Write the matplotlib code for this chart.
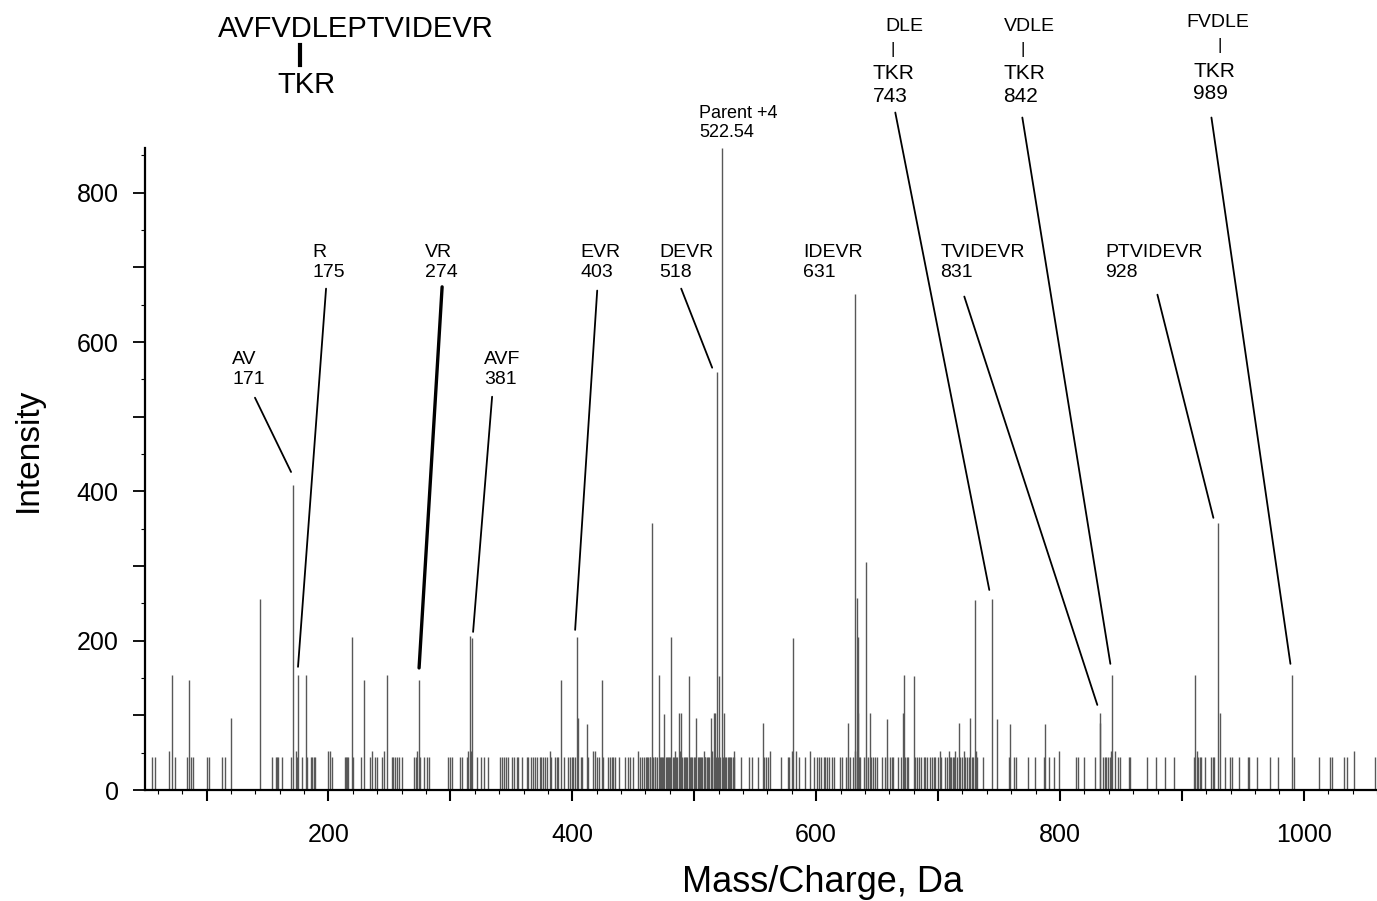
import matplotlib.pyplot as plt
from matplotlib.ticker import MultipleLocator, FuncFormatter
from matplotlib.lines import Line2D

plt.rcParams['font.family'] = ['Liberation Sans', 'DejaVu Sans']

# tall / labelled peaks (m/z, intensity)
peak_mz = [72.0, 85.8, 120.3, 143.8, 171.2, 175.3, 181.3, 219.1, 229.2, 247.8,
           274.3, 316.2, 318.1, 390.5, 403.6, 405.0, 411.8, 424.0, 465.2, 470.7,
           475.5, 481.1, 487.1, 489.0, 495.3, 501.6, 513.7, 515.9, 517.2, 518.9,
           520.5, 522.54, 524.3, 556.8, 581.2, 626.3, 632.1, 633.2, 634.0, 634.5,
           641.1, 644.4, 658.1, 671.2, 671.8, 680.2, 716.9, 726.2, 730.0, 744.2,
           748.3, 758.7, 787.7, 832.4, 833.2, 842.5, 911.1, 929.6, 931.0, 990.4]
peak_int = [154, 147, 96, 256, 409, 154, 154, 205, 147, 154,
            147, 206, 203, 147, 205, 96, 88, 147, 358, 154,
            102, 205, 103, 103, 153, 96, 96, 103, 103, 560,
            153, 860, 103, 90, 204, 90, 665, 257, 205, 103,
            306, 103, 95, 103, 154, 153, 90, 96, 255, 256,
            95, 89, 89, 103, 90, 154, 154, 358, 103, 154]

# low baseline peaks (about 44 counts)
noise_mz = [55.0, 57.7, 74.1, 83.7, 87.2, 88.6, 100.1, 102.3, 112.4, 115.2,
            153.4, 157.0, 158.1, 158.9, 162.2, 169.0, 174.0, 178.1, 182.7, 185.4,
            186.8, 188.2, 189.0, 202.7, 213.6, 214.4, 215.2, 216.3, 220.4, 226.7,
            234.1, 238.2, 239.6, 243.7, 251.9, 253.3,
            254.6, 256.0, 257.9, 260.1, 270.2, 271.6, 275.1, 278.7, 280.6, 282.5,
            298.4, 299.7, 301.6, 308.0, 309.3, 313.4, 321.6, 325.2, 327.9, 330.7,
            340.8, 342.2, 344.1, 345.7, 347.6, 350.4, 352.3, 354.5, 355.8, 358.6,
            362.7, 364.0, 366.2, 367.6, 369.5, 371.4, 373.1, 374.4, 376.3, 377.7,
            379.1, 382.6, 385.4, 387.3, 388.6, 393.5, 396.8, 398.2, 399.5, 400.9,
            402.3, 406.9, 408.2, 413.1, 419.9, 421.8, 425.4, 429.6, 431.0, 432.3,
            433.7, 435.1, 438.6, 443.3, 445.5, 447.4, 450.1, 455.6, 457.5, 459.1,
            460.2, 461.0, 462.1, 463.4, 464.0, 466.3, 467.5, 468.2, 469.4, 471.8,
            472.9, 473.6, 474.4, 476.6, 477.8, 478.5, 479.7, 480.3, 482.4, 483.5,
            485.3, 486.0, 488.0, 490.2, 491.4, 492.1, 493.3, 494.0, 496.4, 497.5,
            498.3, 499.6, 500.4, 502.8, 503.5, 504.7, 505.4, 506.6, 508.5, 509.2,
            510.4, 511.6, 512.3, 516.6, 518.0, 519.8, 521.3, 523.8, 525.2, 526.0,
            527.3, 528.1, 529.5, 530.4, 531.6, 533.0,
            538.3, 545.1, 547.3, 552.2, 557.4, 558.8, 560.4, 571.3, 576.8, 577.9,
            585.6, 590.5, 597.9, 600.6, 602.5, 604.2, 606.1, 607.5, 608.8, 610.7,
            612.9, 614.8, 619.7, 621.1, 624.6, 626.5, 627.9, 630.6, 633.4, 634.8,
            636.1, 638.9, 640.8, 642.4, 645.2, 646.5, 648.4, 649.8, 654.4, 656.6,
            658.5, 660.7, 662.1, 663.4,
            667.1, 669.6, 673.1, 674.5, 675.3, 681.3, 682.7, 684.6, 686.2, 688.1,
            689.5, 690.9, 693.1, 694.9, 696.3, 697.7, 699.6, 702.1, 705.9, 707.3,
            709.5, 710.8, 711.9, 713.0, 715.2, 718.2, 719.6, 722.3, 723.7, 725.0,
            727.8, 728.6, 732.2, 736.8, 757.9, 762.0, 763.9, 773.7, 779.1, 786.5,
            791.1, 794.7, 813.0, 814.9, 819.6, 828.6, 835.1, 836.8, 838.1, 839.5,
            840.9, 847.7, 849.6, 856.4, 857.8,
            871.4, 878.8, 886.4, 893.2, 909.7, 913.2, 914.6, 916.0, 918.7, 924.2,
            925.5, 926.6, 935.6, 939.7, 941.1, 947.1, 953.9, 955.3, 961.9, 972.5,
            978.6, 991.7, 1012.2, 1021.8, 1023.1, 1032.7, 1035.4, 1058.6]
noise_h = 44
# slightly taller baseline peaks (about 52 counts)
bump_mz = [69.2, 173.1, 199.4, 201.6, 235.5, 245.9, 272.9, 314.3, 317.0, 381.3,
           417.2, 418.6, 453.7, 484.4, 488.5, 507.6, 514.4, 532.3, 562.3, 580.1,
           583.4, 594.6, 632.0, 701.2, 708.7, 714.1, 720.9, 731.1, 799.3, 842.2,
           844.7, 912.4, 1041.4]
bump_h = 52

# fragment labels
ann_text = ['AV\n171', 'R\n175', 'VR\n274', 'AVF\n381', 'EVR\n403', 'DEVR\n518',
            'IDEVR\n631', 'TVIDEVR\n831', 'PTVIDEVR\n928']
ann_pos = [(120.9, 588), (186.6, 731.5), (279.2, 731.5), (327.6, 588), (406.4, 731.5),
           (471.2, 731.5), (589.4, 731.5), (701.8, 731.5), (837.2, 731.5)]
ann_line = [((139.7, 525.5), (169.3, 426)), ((198, 671.6), (175, 165)),
            ((293.2, 674), (274.3, 163.5)), ((334.2, 526.8), (318.6, 211.8)),
            ((420.4, 669), (402.3, 214.5)), ((489.3, 671.6), (514.7, 565.7)),
            None, ((721.5, 661), (830.6, 114)), ((879.9, 663.5), (925.8, 364.6))]

# cross-linked fragments (top right)
xl_word = ['DLE', 'VDLE', 'FVDLE']
xl_word_pos = [(656.7, 1033.5), (754.3, 1033.5), (903.8, 1039)]
xl_bar_x = [662.4, 769.1, 930.7]
xl_text = ['TKR\n743', 'TKR\n842', 'TKR\n989']
xl_text_pos = [(646.5, 972), (753.3, 972), (909.3, 975)]
xl_line = [((664.9, 907.5), (742, 268)), ((769.1, 900.8), (841.3, 169)),
           ((924.2, 900.8), (989, 169))]

W, H = 1377, 901
fig = plt.figure(figsize=(W / 100, H / 100), dpi=100)
ax = fig.add_axes([145 / W, 1 - 790 / H, (W - 145) / W, (790 - 148) / H])

line_col = '#585858'
ax.vlines(noise_mz, 0, noise_h, color=line_col, lw=1.0)
ax.vlines(bump_mz, 0, bump_h, color=line_col, lw=1.0)
ax.vlines(peak_mz, 0, peak_int, color=line_col, lw=1.0)

ax.set_xlim(49.5, 1060)
ax.set_ylim(0, 860)

for s in ['top', 'right']:
    ax.spines[s].set_visible(False)
for s in ['left', 'bottom']:
    ax.spines[s].set_linewidth(1.6)

ax.xaxis.set_major_locator(MultipleLocator(100))
ax.xaxis.set_minor_locator(MultipleLocator(20))
ax.yaxis.set_major_locator(MultipleLocator(100))
ax.yaxis.set_minor_locator(MultipleLocator(50))
lab200 = FuncFormatter(lambda v, p: '%d' % v if int(round(v)) % 200 == 0 else '')
ax.xaxis.set_major_formatter(lab200)
ax.yaxis.set_major_formatter(lab200)
ax.tick_params(axis='x', which='major', length=8, width=1.5, labelsize=18, pad=16)
ax.tick_params(axis='y', which='major', length=9, width=1.3, labelsize=18, pad=10)
ax.tick_params(which='minor', length=3, width=0.8)

for txt, (x, y) in zip(ann_text, ann_pos):
    ax.text(x, y, txt, fontsize=14, ha='left', va='top', linespacing=1.2,
            clip_on=False)
for seg, lw in zip(ann_line, [1.3, 1.3, 2.4, 1.3, 1.3, 1.3, 1.3, 1.3, 1.3]):
    if seg is None:
        continue
    ax.annotate('', xy=seg[1], xytext=seg[0], annotation_clip=False,
                arrowprops=dict(arrowstyle='-', color='black', lw=lw,
                                shrinkA=0, shrinkB=0))
ax.text(504, 917, 'Parent +4\n522.54', fontsize=13, ha='left', va='top',
        linespacing=1.1, clip_on=False)

for w, (x, y), bx, t, (tx, ty), seg in zip(xl_word, xl_word_pos, xl_bar_x,
                                           xl_text, xl_text_pos, xl_line):
    ax.text(x, y, w, fontsize=14, ha='left', va='top', clip_on=False)
    ax.text(bx, y - 31, '|', fontsize=12, ha='center', va='top', clip_on=False)
    ax.text(tx, ty, t, fontsize=15, ha='left', va='top', linespacing=1.22,
            clip_on=False)
    ax.annotate('', xy=seg[1], xytext=seg[0], annotation_clip=False,
                arrowprops=dict(arrowstyle='-', color='black', lw=1.3,
                                shrinkA=0, shrinkB=0))

# peptide header
fig.text(218 / W, 1 - 29 / H, 'AVFVDLEPTVIDEVR', fontsize=21, ha='left', va='center')
fig.add_artist(Line2D([300 / W, 300 / W], [1 - 45 / H, 1 - 65 / H], lw=3, color='black'))
fig.text(306 / W, 1 - 85 / H, 'TKR', fontsize=21, ha='center', va='center')

fig.text(28 / W, 1 - 450 / H, 'Intensity', fontsize=24, rotation=90,
         ha='center', va='center')
fig.text(823 / W, 1 - 883 / H, 'Mass/Charge, Da', fontsize=26, ha='center', va='center')

fig.savefig('out.png', dpi=100)
